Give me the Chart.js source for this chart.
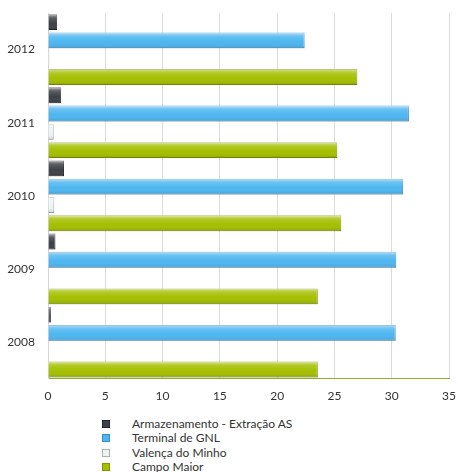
<!DOCTYPE html>
<html lang="pt">
<head>
  <meta charset="UTF-8">
  <title>Gráfico</title>
  <script src="https://cdn.jsdelivr.net/npm/chart.js"></script>
  <style>
    body { margin: 0; background: #fff; font-family: 'Lato', sans-serif; }
    #wrap { position: relative; width: 458px; height: 413px; }
    #legenda {
      position: absolute; left: 102px; top: 417px;
      font-size: 12px; color: #333; line-height: 14.3px;
    }
    #legenda div { display: flex; align-items: center; }
    #legenda span.box {
      display: inline-block; width: 8px; height: 8px; margin-right: 22px;
      box-sizing: border-box;
    }
  </style>
</head>
<body>
  <div id="wrap"><canvas id="grafico"></canvas></div>
  <div id="legenda"></div>

  <script>
    const anos = ["2012", "2011", "2010", "2009", "2008"];
    const armazenamento = [0.8, 1.15, 1.4, 0.65, 0.25];
    const terminalGNL   = [22.4, 31.5, 31.0, 30.4, 30.35];
    const valenca       = [0.12, 0.5, 0.55, 0, 0];
    const campoMaior    = [27.0, 25.25, 25.6, 23.55, 23.55];
    const ticksX = { min: 0, max: 35, passo: 5 };

    const series = [
      { nome: "Armazenamento - Extração AS", valores: armazenamento, cor: "#3c4147", borda: "#24282c" },
      { nome: "Terminal de GNL", valores: terminalGNL, cor: "#4cb6f0", borda: "#3a8cc4" },
      { nome: "Valença do Minho", valores: valenca, cor: "#eef3f3", borda: "#a9b2b2" },
      { nome: "Campo Maior", valores: campoMaior, cor: "#a4bf00", borda: "#809600" }
    ];

    // brilho por cima das barras (efeito 3D)
    const brilho = {
      id: 'brilho',
      afterDatasetsDraw(chart) {
        const ctx = chart.ctx;
        chart.data.datasets.forEach((ds, i) => {
          chart.getDatasetMeta(i).data.forEach(bar => {
            const left = Math.min(bar.x, bar.base), w = Math.abs(bar.x - bar.base);
            if (w < 1) return;
            const top = bar.y - bar.height / 2;
            const g = ctx.createLinearGradient(0, top, 0, top + bar.height);
            g.addColorStop(0, 'rgba(255,255,255,0.55)');
            g.addColorStop(0.25, 'rgba(255,255,255,0.15)');
            g.addColorStop(0.6, 'rgba(255,255,255,0)');
            g.addColorStop(1, 'rgba(0,0,0,0.15)');
            ctx.save();
            ctx.fillStyle = g;
            ctx.fillRect(left, top, w, bar.height);
            ctx.restore();
          });
        });
      }
    };

    const grafico = new Chart(document.getElementById("grafico"), {
      type: 'bar',
      data: {
        labels: anos,
        datasets: series.map(s => ({
          label: s.nome,
          data: s.valores,
          backgroundColor: s.cor,
          borderColor: s.borda,
          borderWidth: 1,
          categoryPercentage: 1,
          barPercentage: 0.87
        }))
      },
      options: {
        indexAxis: 'y',
        responsive: true,
        maintainAspectRatio: false,
        animation: false,
        layout: { padding: { left: 0, right: 0, top: 13, bottom: 0 } },
        plugins: { legend: { display: false }, tooltip: { enabled: false } },
        scales: {
          x: {
            min: ticksX.min, max: ticksX.max,
            afterFit: s => { s.paddingRight = 9; s.paddingLeft = 0; },
            ticks: { stepSize: ticksX.passo, color: '#333', font: { family: 'Lato', size: 12 }, padding: 10 },
            grid: { color: '#dcdcdc', drawTicks: false },
            border: { color: '#8fb02a', width: 1 }
          },
          y: {
            afterFit: s => { s.width = 48; s.paddingTop = 0; s.paddingBottom = 0; },
            ticks: { color: '#333', font: { family: 'Lato', size: 12 }, padding: 13 },
            grid: { display: false, drawTicks: false },
            border: { color: '#d6d6d6' }
          }
        }
      },
      plugins: [brilho]
    });

    const leg = document.getElementById("legenda");
    series.forEach(s => {
      const d = document.createElement("div");
      d.innerHTML = `<span class="box" style="background:${s.cor};border:1px solid ${s.borda}"></span>${s.nome}`;
      leg.appendChild(d);
    });
  </script>
</body>
</html>
